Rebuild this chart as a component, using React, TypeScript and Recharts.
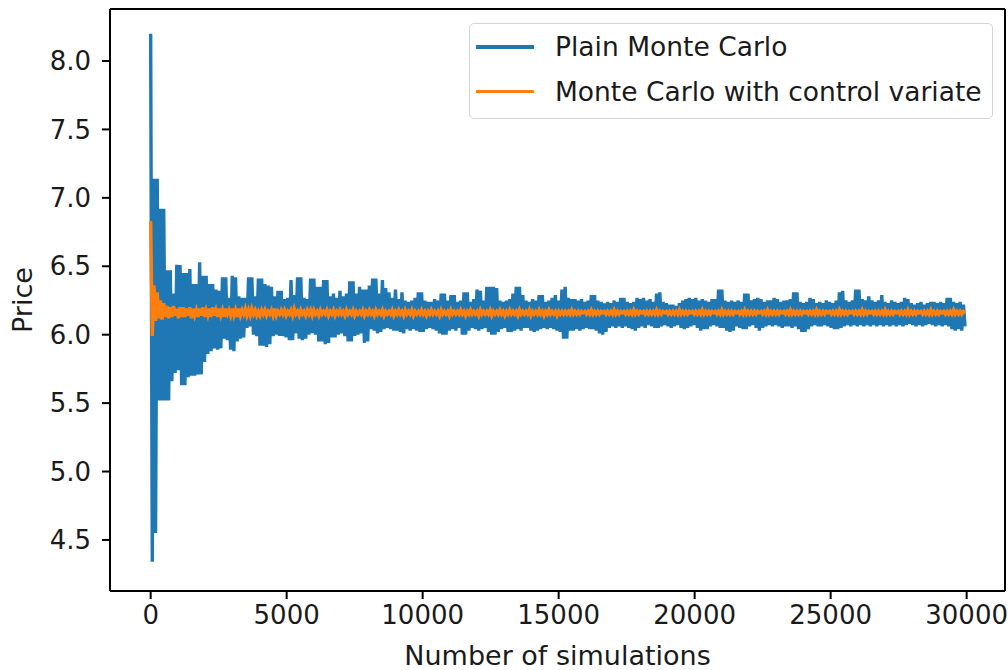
import { LineChart, Line, XAxis, YAxis, ReferenceLine } from 'recharts';

// sampled every SIM_STEP simulations, starting at 0
const SIM_STEP = 60;

const plainMonteCarlo = [
  8.20, 4.34, 7.14, 4.55, 7.14, 5.52, 6.92, 5.52, 6.92, 5.52,
  6.47, 5.52, 6.47, 5.66, 6.30, 5.72, 6.51, 5.74, 6.51, 5.63,
  6.45, 5.63, 6.45, 5.69, 6.48, 5.70, 6.37, 5.70, 6.37, 5.71,
  6.53, 5.71, 6.43, 5.80, 6.43, 5.86, 6.37, 5.88, 6.37, 5.90,
  6.33, 5.89, 6.32, 5.90, 6.42, 5.97, 6.42, 5.96, 6.27, 5.89,
  6.43, 5.88, 6.42, 5.95, 6.28, 5.97, 6.27, 5.98, 6.27, 6.05,
  6.42, 6.06, 6.42, 6.00, 6.28, 5.99, 6.41, 5.92, 6.41, 5.92,
  6.37, 5.91, 6.36, 5.93, 6.35, 5.99, 6.28, 6.00, 6.32, 5.99,
  6.32, 5.99, 6.26, 5.98, 6.27, 5.96, 6.40, 5.96, 6.29, 6.01,
  6.42, 5.97, 6.42, 5.96, 6.27, 5.97, 6.26, 6.00, 6.41, 6.01,
  6.41, 6.00, 6.35, 5.95, 6.35, 5.95, 6.40, 5.93, 6.40, 5.94,
  6.28, 5.98, 6.30, 5.98, 6.27, 6.00, 6.32, 6.01, 6.28, 5.99,
  6.30, 5.95, 6.39, 5.95, 6.39, 5.99, 6.30, 6.00, 6.35, 6.01,
  6.33, 5.94, 6.33, 5.95, 6.36, 6.04, 6.41, 6.03, 6.41, 6.01,
  6.30, 6.02, 6.40, 6.04, 6.34, 6.05, 6.31, 6.04, 6.27, 6.03,
  6.33, 6.03, 6.26, 6.02, 6.31, 6.01, 6.25, 6.04, 6.24, 6.03,
  6.25, 6.04, 6.27, 6.03, 6.31, 6.02, 6.31, 6.02, 6.25, 6.04,
  6.24, 6.05, 6.24, 6.04, 6.26, 6.03, 6.25, 6.01, 6.30, 6.00,
  6.30, 6.00, 6.25, 6.03, 6.29, 6.04, 6.29, 6.03, 6.24, 6.05,
  6.25, 6.00, 6.31, 6.00, 6.31, 6.03, 6.24, 6.05, 6.26, 6.04,
  6.33, 6.03, 6.32, 6.04, 6.25, 6.05, 6.35, 6.02, 6.35, 6.00,
  6.35, 6.00, 6.34, 6.02, 6.25, 6.04, 6.24, 6.05, 6.25, 6.02,
  6.26, 6.02, 6.30, 6.03, 6.35, 6.04, 6.35, 6.03, 6.29, 6.05,
  6.25, 6.05, 6.24, 6.03, 6.26, 6.02, 6.25, 6.03, 6.29, 6.04,
  6.29, 6.05, 6.24, 6.04, 6.25, 6.05, 6.27, 6.04, 6.29, 6.03,
  6.25, 6.02, 6.33, 5.97, 6.35, 5.97, 6.27, 6.03, 6.26, 6.03,
  6.26, 6.04, 6.25, 6.03, 6.26, 6.04, 6.24, 6.05, 6.25, 6.04,
  6.29, 6.04, 6.29, 6.03, 6.25, 6.01, 6.24, 6.00, 6.23, 6.02,
  6.24, 6.05, 6.23, 6.06, 6.25, 6.05, 6.24, 6.06, 6.27, 6.05,
  6.27, 6.06, 6.24, 6.05, 6.23, 6.04, 6.24, 6.03, 6.27, 6.05,
  6.26, 6.06, 6.27, 6.05, 6.25, 6.07, 6.26, 6.06, 6.24, 6.05,
  6.30, 6.05, 6.31, 6.06, 6.24, 6.07, 6.23, 6.06, 6.22, 6.05,
  6.22, 6.06, 6.21, 6.07, 6.23, 6.05, 6.25, 6.04, 6.26, 6.05,
  6.27, 6.06, 6.26, 6.07, 6.27, 6.05, 6.25, 6.03, 6.26, 6.04,
  6.25, 6.04, 6.24, 6.06, 6.26, 6.07, 6.26, 6.06, 6.33, 6.05,
  6.33, 6.05, 6.25, 6.03, 6.24, 6.02, 6.25, 6.03, 6.24, 6.06,
  6.25, 6.05, 6.24, 6.04, 6.30, 6.04, 6.30, 6.06, 6.25, 6.07,
  6.26, 6.05, 6.27, 6.03, 6.26, 6.05, 6.24, 6.06, 6.25, 6.07,
  6.25, 6.06, 6.27, 6.07, 6.26, 6.06, 6.24, 6.05, 6.25, 6.06,
  6.25, 6.06, 6.26, 6.05, 6.31, 6.06, 6.31, 6.04, 6.24, 6.02,
  6.23, 6.02, 6.24, 6.04, 6.27, 6.06, 6.26, 6.07, 6.23, 6.06,
  6.24, 6.06, 6.23, 6.07, 6.25, 6.06, 6.24, 6.05, 6.23, 6.04,
  6.25, 6.04, 6.31, 6.05, 6.32, 6.06, 6.25, 6.07, 6.24, 6.06,
  6.25, 6.07, 6.33, 6.06, 6.33, 6.07, 6.26, 6.06, 6.25, 6.07,
  6.28, 6.06, 6.25, 6.07, 6.24, 6.06, 6.25, 6.07, 6.29, 6.06,
  6.24, 6.07, 6.23, 6.06, 6.25, 6.07, 6.24, 6.06, 6.23, 6.07,
  6.24, 6.06, 6.27, 6.07, 6.26, 6.08, 6.23, 6.07, 6.22, 6.06,
  6.23, 6.07, 6.24, 6.06, 6.22, 6.07, 6.23, 6.08, 6.24, 6.07,
  6.24, 6.06, 6.23, 6.07, 6.24, 6.06, 6.23, 6.07, 6.27, 6.06,
  6.27, 6.04, 6.24, 6.03, 6.23, 6.04, 6.24, 6.03, 6.22, 6.06,
];

const controlVariate = [
  6.83, 5.99, 6.36, 6.10, 6.31, 6.12, 6.25, 6.11, 6.23, 6.13,
  6.21, 6.12, 6.20, 6.13, 6.21, 6.14, 6.19, 6.12, 6.20, 6.13,
  6.20, 6.13, 6.19, 6.14, 6.20, 6.12, 6.19, 6.14, 6.18, 6.13,
  6.19, 6.14, 6.20, 6.13, 6.18, 6.14, 6.19, 6.13, 6.20, 6.14,
  6.18, 6.13, 6.19, 6.14, 6.18, 6.13, 6.19, 6.15, 6.18, 6.14,
  6.19, 6.14, 6.18, 6.13, 6.19, 6.14, 6.18, 6.15, 6.19, 6.14,
  6.18, 6.14, 6.19, 6.15, 6.18, 6.14, 6.17, 6.14, 6.18, 6.15,
  6.18, 6.14, 6.17, 6.15, 6.18, 6.14, 6.19, 6.14, 6.17, 6.15,
  6.18, 6.15, 6.18, 6.14, 6.17, 6.15, 6.18, 6.14, 6.19, 6.15,
  6.17, 6.14, 6.18, 6.15, 6.17, 6.14, 6.18, 6.15, 6.18, 6.14,
  6.18, 6.15, 6.17, 6.14, 6.18, 6.15, 6.17, 6.15, 6.18, 6.14,
  6.17, 6.15, 6.18, 6.14, 6.17, 6.15, 6.18, 6.15, 6.17, 6.14,
  6.18, 6.15, 6.17, 6.15, 6.18, 6.14, 6.17, 6.15, 6.17, 6.15,
  6.18, 6.14, 6.17, 6.15, 6.18, 6.15, 6.17, 6.14, 6.18, 6.15,
  6.17, 6.15, 6.18, 6.14, 6.17, 6.15, 6.17, 6.15, 6.18, 6.14,
  6.17, 6.15, 6.18, 6.15, 6.17, 6.14, 6.18, 6.15, 6.17, 6.15,
  6.18, 6.14, 6.17, 6.15, 6.17, 6.15, 6.18, 6.15, 6.17, 6.14,
  6.17, 6.15, 6.18, 6.15, 6.17, 6.15, 6.17, 6.14, 6.18, 6.15,
  6.17, 6.15, 6.17, 6.14, 6.18, 6.15, 6.17, 6.15, 6.17, 6.15,
  6.18, 6.15, 6.17, 6.14, 6.17, 6.15, 6.18, 6.15, 6.17, 6.15,
  6.17, 6.14, 6.18, 6.15, 6.17, 6.15, 6.17, 6.15, 6.18, 6.14,
  6.17, 6.15, 6.17, 6.15, 6.18, 6.15, 6.17, 6.14, 6.17, 6.15,
  6.18, 6.15, 6.17, 6.15, 6.17, 6.14, 6.18, 6.15, 6.17, 6.15,
  6.17, 6.15, 6.18, 6.14, 6.17, 6.15, 6.17, 6.15, 6.18, 6.15,
  6.17, 6.14, 6.17, 6.15, 6.18, 6.15, 6.17, 6.15, 6.17, 6.14,
  6.17, 6.15, 6.17, 6.15, 6.17, 6.15, 6.17, 6.15, 6.18, 6.15,
  6.17, 6.15, 6.17, 6.15, 6.17, 6.16, 6.17, 6.15, 6.17, 6.15,
  6.18, 6.15, 6.17, 6.15, 6.17, 6.15, 6.17, 6.16, 6.17, 6.15,
  6.17, 6.15, 6.17, 6.15, 6.18, 6.15, 6.17, 6.15, 6.17, 6.16,
  6.17, 6.15, 6.17, 6.15, 6.17, 6.15, 6.18, 6.15, 6.17, 6.15,
  6.17, 6.16, 6.17, 6.15, 6.17, 6.15, 6.17, 6.15, 6.17, 6.15,
  6.18, 6.15, 6.17, 6.15, 6.17, 6.16, 6.17, 6.15, 6.17, 6.15,
  6.17, 6.15, 6.17, 6.15, 6.18, 6.15, 6.17, 6.15, 6.17, 6.15,
  6.17, 6.16, 6.17, 6.15, 6.17, 6.15, 6.17, 6.15, 6.18, 6.15,
  6.17, 6.15, 6.17, 6.15, 6.17, 6.16, 6.17, 6.15, 6.17, 6.15,
  6.18, 6.15, 6.17, 6.15, 6.17, 6.15, 6.17, 6.15, 6.17, 6.16,
  6.17, 6.15, 6.17, 6.15, 6.18, 6.15, 6.17, 6.15, 6.17, 6.15,
  6.17, 6.15, 6.17, 6.16, 6.17, 6.15, 6.17, 6.15, 6.18, 6.15,
  6.17, 6.15, 6.17, 6.15, 6.17, 6.15, 6.17, 6.16, 6.17, 6.15,
  6.17, 6.15, 6.18, 6.15, 6.17, 6.15, 6.17, 6.15, 6.17, 6.15,
  6.17, 6.16, 6.17, 6.15, 6.17, 6.15, 6.17, 6.15, 6.18, 6.15,
  6.17, 6.15, 6.17, 6.15, 6.17, 6.16, 6.17, 6.15, 6.17, 6.15,
  6.17, 6.15, 6.18, 6.15, 6.17, 6.15, 6.17, 6.15, 6.17, 6.16,
  6.17, 6.15, 6.17, 6.15, 6.17, 6.15, 6.18, 6.15, 6.17, 6.15,
  6.17, 6.16, 6.17, 6.15, 6.17, 6.15, 6.17, 6.15, 6.17, 6.15,
  6.18, 6.15, 6.17, 6.15, 6.17, 6.15, 6.17, 6.16, 6.17, 6.15,
  6.17, 6.15, 6.17, 6.15, 6.18, 6.15, 6.17, 6.15, 6.17, 6.15,
  6.17, 6.16, 6.17, 6.15, 6.17, 6.15, 6.17, 6.15, 6.18, 6.15,
  6.17, 6.15, 6.17, 6.15, 6.17, 6.16, 6.17, 6.15, 6.17, 6.15,
  6.17, 6.15, 6.18, 6.15, 6.17, 6.15, 6.17, 6.15, 6.17, 6.16,
];

const xTicks = [0, 5000, 10000, 15000, 20000, 25000, 30000];
const yTicks = [4.5, 5.0, 5.5, 6.0, 6.5, 7.0, 7.5, 8.0];

const BLUE = '#1f77b4';
const ORANGE = '#ff7f0e';
const TEXT = '#1a1a1a';
const FONT = '"DejaVu Sans", sans-serif';
const X_DOMAIN: [number, number] = [-1495, 31410];
const Y_DOMAIN: [number, number] = [4.127, 8.38];

const data = plainMonteCarlo.map((v, i) => ({
  n: i * SIM_STEP,
  plain: v,
  cv: controlVariate[i],
}));

const legendItems = [
  { label: 'Plain Monte Carlo', color: BLUE },
  { label: 'Monte Carlo with control variate', color: ORANGE },
];

// matplotlib-style legend box, laid over the upper right of the plot
function LegendBox() {
  return (
    <div
      style={{
        position: 'absolute',
        left: 469,
        top: 23,
        width: 524,
        height: 96,
        boxSizing: 'border-box',
        border: '1.5px solid #d4d4d4',
        borderRadius: 5,
        background: 'rgba(255,255,255,0.8)',
        fontFamily: FONT,
        fontSize: 26.5,
        color: TEXT,
      }}
    >
      {legendItems.map((item, i) => (
        <div
          key={item.label}
          style={{
            position: 'absolute',
            left: 0,
            top: 1 + i * 44.5,
            height: 44,
            display: 'flex',
            alignItems: 'center',
            whiteSpace: 'nowrap',
          }}
        >
          <div style={{ width: 58, height: 3.5, marginLeft: 6, background: item.color }} />
          <span style={{ marginLeft: 21, lineHeight: '44px' }}>{item.label}</span>
        </div>
      ))}
    </div>
  );
}

const tickStyle = { fontSize: 26, fontFamily: FONT, fill: TEXT };
const labelStyle = { fontSize: 27, fontFamily: FONT, fill: TEXT };
const spine = { stroke: '#000', strokeWidth: 2 };

export default function App() {
  return (
    <div style={{ position: 'absolute', left: 0, top: 0, width: 1008, height: 670, background: '#fff' }}>
      <LineChart
        width={1008}
        height={670}
        data={data}
        margin={{ top: 9, right: 3, bottom: 0, left: 0 }}
      >
        <XAxis
          dataKey="n"
          type="number"
          domain={X_DOMAIN}
          allowDataOverflow
          ticks={xTicks}
          interval={0}
          height={79}
          tick={tickStyle}
          tickSize={8}
          tickMargin={7}
          tickLine={spine}
          axisLine={spine}
          label={{
            value: 'Number of simulations',
            position: 'insideBottom',
            offset: 5,
            style: labelStyle,
          }}
        />
        <YAxis
          type="number"
          domain={Y_DOMAIN}
          allowDataOverflow
          ticks={yTicks}
          interval={0}
          width={110}
          tick={tickStyle}
          tickSize={8}
          tickMargin={11}
          tickLine={spine}
          axisLine={spine}
          tickFormatter={(v: number) => v.toFixed(1)}
          label={{
            value: 'Price',
            angle: -90,
            position: 'insideLeft',
            offset: 22,
            style: { ...labelStyle, textAnchor: 'middle' },
          }}
        />
        {/* top and right spines */}
        <ReferenceLine y={Y_DOMAIN[1]} stroke="#000" strokeWidth={2} />
        <ReferenceLine x={X_DOMAIN[1]} stroke="#000" strokeWidth={2} />
        <Line
          type="linear"
          dataKey="plain"
          stroke={BLUE}
          strokeWidth={3.4}
          dot={false}
          activeDot={false}
          isAnimationActive={false}
        />
        <Line
          type="linear"
          dataKey="cv"
          stroke={ORANGE}
          strokeWidth={3.4}
          dot={false}
          activeDot={false}
          isAnimationActive={false}
        />
      </LineChart>
      <LegendBox />
    </div>
  );
}
